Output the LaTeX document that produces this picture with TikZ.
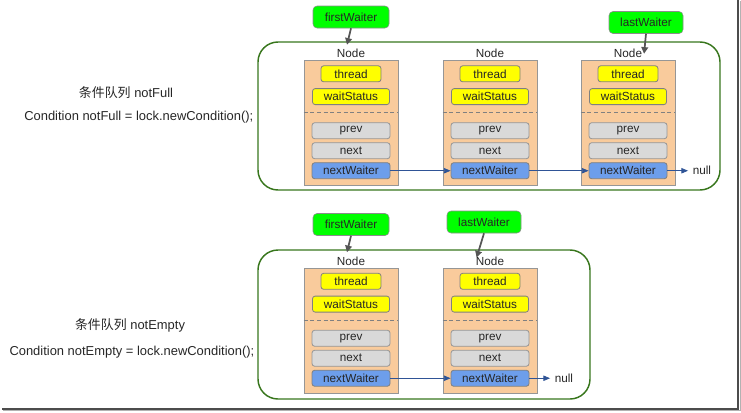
\documentclass[tikz,border=0pt]{standalone}
\usepackage{fontspec}
\setmainfont{Liberation Sans}
\newfontfamily\cjk{Noto Sans CJK SC}
\usetikzlibrary{arrows.meta,positioning}
\definecolor{cqgreen}{RGB}{0,255,0}
\definecolor{cqframe}{RGB}{56,118,29}
\definecolor{cqorange}{RGB}{249,203,156}
\definecolor{cqyellow}{RGB}{255,255,0}
\definecolor{cqgray}{RGB}{217,217,217}
\definecolor{cqblue}{RGB}{109,158,235}
\definecolor{cqarrow}{RGB}{47,84,150}
\definecolor{cqpointer}{RGB}{85,85,85}
\definecolor{cqborder}{RGB}{150,150,150}
\tikzset{
  every node/.style={font=\fontsize{8.8}{10.5}\selectfont,text=black!85},
  caption/.style={font=\fontsize{9.7}{11.5}\selectfont},
  queuebox/.style={draw=cqframe,line width=1.1pt,rounded corners=15pt,inner sep=0pt},
  nodebox/.style={draw=cqborder,fill=cqorange,minimum width=70.5pt,minimum height=93.5pt,inner sep=0pt},
  fieldbox/.style={draw=cqborder,rounded corners=2pt,minimum height=12pt,inner sep=0pt,line width=0.6pt},
  yfield/.style={fieldbox,fill=cqyellow,draw=black!50},
  gfield/.style={fieldbox,fill=cqgray,minimum width=58.5pt},
  bfield/.style={fieldbox,fill=cqblue,draw=black!50,minimum width=58.5pt},
  waiterbox/.style={draw=black!45,fill=cqgreen,rounded corners=3pt,minimum width=57pt,minimum height=16.5pt,inner sep=0pt},
  ptrarrow/.style={-{Triangle[length=5pt,width=5pt]},cqpointer,line width=1.3pt},
  linkarrow/.style={-{Triangle[length=5pt,width=4pt]},cqarrow,line width=0.6pt}
}
\begin{document}
\begin{tikzpicture}[x=0.75pt,y=-0.75pt]
  \useasboundingbox (0,0) rectangle (741,412);
  % Frame shadow
  \draw[black!30,line width=1pt] (3,410.7) -- (740.5,410.7) -- (740.5,1);
  \draw[black!70,line width=1.6pt] (2,408.6) -- (738.4,408.6) -- (738.4,0);
  % Queue frames
  \node[queuebox,minimum width=346.5pt,minimum height=111pt] (q1) at (489,116) {};
  \node[queuebox,minimum width=249pt,minimum height=111.75pt] (q2) at (424,324.5) {};
  % Captions
  \node[caption] (cap1) at (126,93) {{\cjk 条件队列} notFull};
  \node[caption,anchor=east] (decl1) at (258,117) {Condition notFull = lock.newCondition();};
  \node[caption] (cap2) at (130,325) {{\cjk 条件队列} notEmpty};
  \node[caption,anchor=east] (decl2) at (259,352) {Condition notEmpty = lock.newCondition();};
  % Nodes
  \foreach \i/\x/\y in {1/351/123,2/490/123,3/628/123,4/351/330.5,5/490/330.5} {
    \node[nodebox] (n\i) at (\x,\y) {};
    \node[above=-1.8pt of n\i] (lbl\i) {Node};
    \node[yfield,minimum width=45pt,below=3.75pt of n\i.north] (th\i) {thread};
    \node[yfield,minimum width=57.75pt,below=4.5pt of th\i] (ws\i) {waitStatus};
    \draw[black!50,dash pattern=on 3pt off 2pt] ([yshift=-39pt]n\i.north west) -- ([yshift=-39pt]n\i.north east);
    \node[gfield,below=13pt of ws\i] (pv\i) {prev};
    \node[gfield,below=2.4pt of pv\i] (nx\i) {next};
    \node[bfield,below=2.4pt of nx\i] (nw\i) {nextWaiter};
  }
  % null ends
  \node[right=15.5pt of nw3] (null1) {null};
  \node[right=15.5pt of nw5] (null2) {null};
  \draw[linkarrow] (nw1) -- (nw2);
  \draw[linkarrow] (nw2) -- (nw3);
  \draw[linkarrow] (nw3) -- (null1);
  \draw[linkarrow] (nw4) -- (nw5);
  \draw[linkarrow] (nw5) -- (null2);
  % Waiters
  \node[waiterbox] (fw1) at (351,17) {firstWaiter};
  \node[waiterbox,minimum width=55.5pt] (lw1) at (646,22.5) {lastWaiter};
  \node[waiterbox] (fw2) at (351,224.5) {firstWaiter};
  \node[waiterbox,minimum width=55.5pt] (lw2) at (484,222) {lastWaiter};
  \draw[ptrarrow] (fw1.south) -- ([xshift=-3pt]lbl1.north);
  \draw[ptrarrow] (lw1.south) -- ([xshift=-2pt]lbl3.east);
  \draw[ptrarrow] (fw2.south) -- ([xshift=-3pt]lbl4.north);
  \draw[ptrarrow] (lw2.south) -- ([xshift=4pt,yshift=-4pt]lbl5.north west);
\end{tikzpicture}
\end{document}
